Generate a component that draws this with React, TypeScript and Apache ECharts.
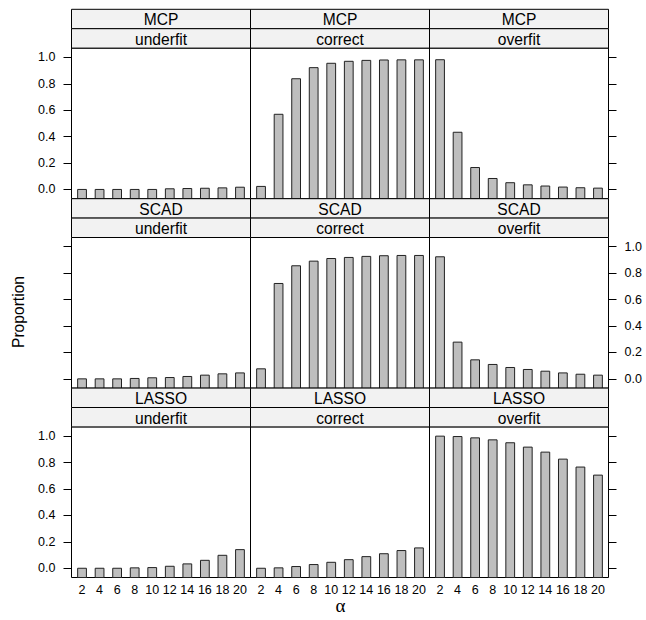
import React, { useEffect, useRef } from "react";
import * as echarts from "echarts";

const alphas = ["2", "4", "6", "8", "10", "12", "14", "16", "18", "20"];
const methods = ["MCP", "SCAD", "LASSO"];
const outcomes = ["underfit", "correct", "overfit"];

const mcpUnderfit = [0, 0, 0, 0, 0, 0.005, 0.007, 0.009, 0.012, 0.017];
const mcpCorrect = [0.023, 0.569, 0.838, 0.922, 0.955, 0.97, 0.977, 0.98, 0.981, 0.981];
const mcpOverfit = [0.982, 0.433, 0.166, 0.083, 0.051, 0.035, 0.026, 0.018, 0.013, 0.01];

const scadUnderfit = [0, 0, 0, 0.003, 0.008, 0.01, 0.018, 0.028, 0.038, 0.045];
const scadCorrect = [0.076, 0.722, 0.856, 0.891, 0.911, 0.919, 0.927, 0.932, 0.934, 0.934];
const scadOverfit = [0.924, 0.278, 0.144, 0.109, 0.086, 0.071, 0.058, 0.045, 0.035, 0.028];

const lassoUnderfit = [0, 0, 0, 0.003, 0.005, 0.015, 0.033, 0.06, 0.098, 0.141];
const lassoCorrect = [0, 0.003, 0.013, 0.028, 0.045, 0.065, 0.088, 0.11, 0.134, 0.154];
const lassoOverfit = [1.0, 0.997, 0.987, 0.972, 0.95, 0.917, 0.879, 0.826, 0.766, 0.705];

const yTicks = [0, 0.2, 0.4, 0.6, 0.8, 1.0];

const panelData = [
  [mcpUnderfit, mcpCorrect, mcpOverfit],
  [scadUnderfit, scadCorrect, scadOverfit],
  [lassoUnderfit, lassoCorrect, lassoOverfit],
];

const YMIN = -0.07;
const YMAX = 1.07;
const XMIN = 0.4;
const XMAX = 10.6;

const FONT = "'Liberation Sans', Arial, Helvetica, sans-serif";

export default function App() {
  const ref = useRef<HTMLDivElement>(null);
  useEffect(() => {
    if (!ref.current) return;
    const chart = echarts.init(ref.current, undefined, { renderer: "svg" });

    const colLefts = [71.5, 250.5, 429.5];
    const colW = 179;
    const rowStripTops = [9.3, 198.7, 388.1];
    const stripH = 19.4;
    const panelH = 150.6;

    const grids: any[] = [];
    const xAxes: any[] = [];
    const yAxes: any[] = [];
    const series: any[] = [];
    const graphics: any[] = [];

    for (let r = 0; r < 3; r++) {
      for (let c = 0; c < 3; c++) {
        const idx = r * 3 + c;
        const top = rowStripTops[r] + 2 * stripH;
        grids.push({
          left: colLefts[c],
          top: top,
          width: colW,
          height: panelH,
          show: true,
          borderColor: "#000",
          borderWidth: 1,
          backgroundColor: "transparent",
        });
        const bottomRow = r === 2;
        xAxes.push({
          type: "value",
          gridIndex: idx,
          min: XMIN,
          max: XMAX,
          show: bottomRow,
          axisLine: { show: false },
          splitLine: { show: false },
          axisTick: { show: false },
          axisLabel: {
            show: bottomRow,
            customValues: alphas.map((_, i) => i + 1),
            formatter: (v: number) => alphas[Math.round(v) - 1] ?? "",
            fontSize: 12.5,
            fontFamily: FONT,
            color: "#000",
            margin: 6,
          },
        });
        const leftSide = c === 0;
        const rightSide = c === 2;
        const showLabels = (leftSide && r !== 1) || (rightSide && r === 1);
        yAxes.push({
          type: "value",
          gridIndex: idx,
          min: YMIN,
          max: YMAX,
          position: rightSide ? "right" : "left",
          show: leftSide || rightSide,
          axisLine: { show: false },
          splitLine: { show: false },
          axisTick: {
            show: true,
            customValues: yTicks,
            length: 8,
            lineStyle: { color: "#000", width: 1 },
          },
          axisLabel: {
            show: showLabels,
            customValues: yTicks,
            formatter: (v: number) => v.toFixed(1),
            fontSize: 12.5,
            fontFamily: FONT,
            color: "#000",
            margin: 16,
          },
        });
        series.push({
          type: "custom",
          xAxisIndex: idx,
          yAxisIndex: idx,
          data: panelData[r][c].map((v, i) => [i + 1, v]),
          renderItem: (params: any, api: any) => {
            const x = api.value(0);
            const y = api.value(1);
            const p0 = api.coord([x - 0.25, YMIN]);
            const p1 = api.coord([x + 0.25, y]);
            return {
              type: "rect",
              shape: {
                x: p0[0],
                y: p1[1],
                width: p1[0] - p0[0],
                height: p0[1] - p1[1],
              },
              style: { fill: "#bebebe", stroke: "#222", lineWidth: 1 },
            };
          },
        });
        // strips
        const labels = [methods[r], outcomes[c]];
        labels.forEach((lab, k) => {
          const sy = rowStripTops[r] + k * stripH;
          graphics.push({
            type: "rect",
            shape: { x: colLefts[c], y: sy, width: colW, height: stripH },
            style: { fill: "#f2f2f2", stroke: "#000", lineWidth: 1 },
            z: 10,
          });
          graphics.push({
            type: "text",
            x: colLefts[c] + colW / 2,
            y: sy + stripH / 2 + 0.8,
            style: {
              text: lab,
              fill: "#000",
              fontSize: 15.6,
              fontFamily: FONT,
              align: "center",
              verticalAlign: "middle",
            },
            z: 11,
          });
        });
      }
    }

    graphics.push({
      type: "text",
      x: 18,
      y: 312,
      rotation: Math.PI / 2,
      style: {
        text: "Proportion",
        fill: "#000",
        fontSize: 15.6,
        fontFamily: FONT,
        align: "center",
        verticalAlign: "middle",
      },
    });
    graphics.push({
      type: "text",
      x: 340.5,
      y: 605,
      style: {
        text: "α",
        fill: "#000",
        fontSize: 19,
        fontFamily: "'Liberation Serif', 'DejaVu Serif', serif",
        align: "center",
        verticalAlign: "middle",
      },
    });

    chart.setOption({
      animation: false,
      backgroundColor: "#fff",
      grid: grids,
      xAxis: xAxes,
      yAxis: yAxes,
      series,
      graphic: graphics,
    });
    return () => chart.dispose();
  }, []);
  return (
    <div
      ref={ref}
      style={{ position: "absolute", left: 0, top: 0, width: 646, height: 620 }}
    />
  );
}
